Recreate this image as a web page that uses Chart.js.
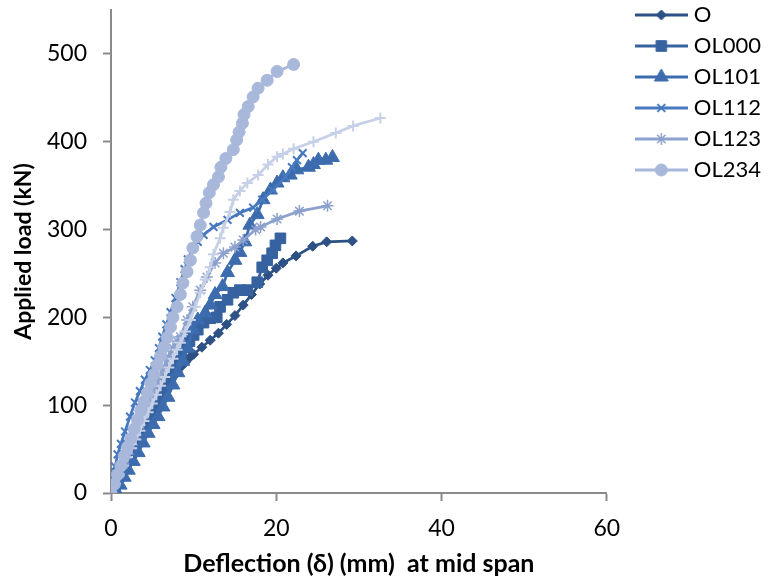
<!DOCTYPE html>
<html>
<head>
<meta charset="utf-8">
<script src="https://cdn.jsdelivr.net/npm/chart.js"></script>
<style>
html, body { margin: 0; padding: 0; background: #fff; }
canvas { display: block; }
</style>
</head>
<body>
<canvas id="loadChart" width="769" height="587"></canvas>
<script>
// deflection (mm) / applied load (kN)
var oX = [0, 0.5, 1, 1.5, 2, 2.5, 3, 3.5, 4, 4.5, 5, 5.5, 6, 6.5, 7, 7.5, 8, 8.5, 9, 9.5, 10, 11, 12, 13, 14, 15, 16, 17, 18, 19, 20, 20.8, 22.4, 24.4, 26.1, 29.2];
var oY = [0, 9, 18, 27, 36, 45, 54, 63, 72, 81, 90, 99, 108, 117, 125, 132, 138, 144, 149, 154, 158, 166, 174, 182, 192, 202, 214, 226, 238, 248, 256, 262, 270, 281, 286, 287];

var ol000X = [0, 0.5, 1, 1.5, 2, 2.5, 3, 3.5, 4, 4.5, 5, 5.5, 6, 6.5, 7, 7.5, 8, 8.5, 9, 9.5, 10, 10.5, 11.2, 12, 12.8, 13.2, 14.1, 14.8, 15.6, 16.5, 17.7, 18.3, 18.9, 19.5, 19.9, 20.5];
var ol000Y = [0, 9, 19, 28, 38, 47, 57, 66, 76, 85, 95, 104, 114, 123, 132, 141, 150, 158, 166, 173, 180, 186, 194, 199, 200, 212, 220, 228, 231, 231, 240, 257, 265, 273, 282, 290];

var ol101X = [0, 0.5, 1.1, 1.6, 2.1, 2.7, 3.3, 3.9, 4.5, 5.1, 5.7, 6.3, 6.9, 7.5, 8.1, 8.7, 9.3, 9.9, 10.5, 11.4, 12, 12.6, 13.5, 14.1, 15, 15.6, 16.2, 16.8, 17.7, 18.4, 19.3, 20.1, 20.8, 21.7, 22.5, 23.9, 24.5, 25.1, 26, 26.8];
var ol101Y = [0, 4, 9, 18, 26, 36, 46, 57, 68, 78, 87, 98, 109, 123, 137, 150, 165, 186, 197, 205, 214, 226, 235, 251, 265, 274, 286, 305, 317, 334, 345, 353, 359, 362, 368, 371, 374, 379, 379, 382];

var ol112X = [0, 0.2, 0.5, 0.8, 1.2, 1.7, 2.3, 2.9, 3.5, 4.1, 4.7, 5.3, 5.8, 6.2, 6.7, 7.2, 7.8, 8.4, 8.9, 9.3, 9.9, 10.5, 11.2, 12.4, 14.1, 15.6, 17.2, 18.3, 19.6, 21.1, 21.9, 22.5, 23.2];
var ol112Y = [0, 15, 30, 44, 56, 70, 87, 103, 116, 129, 140, 151, 165, 178, 192, 206, 222, 240, 255, 266, 279, 286, 294, 303, 311, 319, 325, 334, 345, 360, 371, 379, 387];

var ol123X = [0, 0.5, 1, 1.5, 2, 2.5, 3, 3.5, 4, 4.5, 5, 5.5, 6, 6.5, 7, 7.5, 8, 8.4, 9.2, 9.9, 10.8, 11.6, 12.6, 13.6, 15, 16, 17.5, 18.1, 20.1, 22.8, 26.2];
var ol123Y = [0, 11, 22, 33, 44, 55, 66, 78, 89, 100, 111, 122, 133, 144, 155, 165, 173, 178, 197, 212, 231, 246, 262, 273, 280, 288, 300, 303, 312, 321, 327];

var ol234X = [0, 0.4, 0.8, 1.2, 1.6, 2, 2.4, 2.8, 3.2, 3.6, 4, 4.4, 4.8, 5.2, 5.6, 6, 6.4, 6.8, 7.2, 7.5, 8, 8.4, 8.7, 9.2, 9.6, 9.9, 10.4, 10.8, 11.2, 11.5, 11.9, 12.4, 13, 13.3, 13.9, 14.8, 15.2, 15.5, 15.9, 16.1, 16.6, 17.2, 17.8, 18.9, 20.1, 22.1];
var ol234Y = [0, 10, 21, 31, 42, 52, 62, 73, 83, 94, 104, 114, 125, 135, 146, 156, 166, 177, 189, 200, 212, 226, 239, 252, 265, 279, 292, 305, 319, 330, 342, 351, 360, 371, 381, 391, 402, 411, 421, 431, 440, 451, 461, 470, 480, 488];

// seventh curve (light, "+" markers) has no legend entry in the original
var extraX = [0, 0.5, 1, 1.5, 2, 2.5, 3, 3.5, 4, 4.5, 5, 5.5, 6, 6.5, 7, 7.5, 8, 8.4, 9, 9.6, 10.2, 10.8, 11.4, 12, 12.4, 13.2, 13.6, 14.4, 14.8, 15.6, 16.5, 17.8, 19, 20.1, 20.8, 22.1, 24.5, 27.2, 29.3, 32.6];
var extraY = [0, 10, 20, 31, 41, 51, 61, 71, 82, 92, 102, 112, 122, 132, 143, 153, 163, 171, 184, 197, 212, 228, 243, 257, 272, 290, 302, 320, 334, 344, 353, 362, 374, 383, 386, 392, 400, 410, 418, 427];

var seriesNames = ['O', 'OL000', 'OL101', 'OL112', 'OL123', 'OL234', ''];
var seriesX = [oX, ol000X, ol101X, ol112X, ol123X, ol234X, extraX];
var seriesY = [oY, ol000Y, ol101Y, ol112Y, ol123Y, ol234Y, extraY];

var xTicks = [0, 20, 40, 60];
var yTicks = [0, 100, 200, 300, 400, 500];

var looks = [
    { color: '#2d5184', point: 'rectRot',  radius: 5,   border: 1,   order: 7 },
    { color: '#3762a0', point: 'rect',     radius: 7.5, border: 1,   order: 6 },
    { color: '#3c6cae', point: 'triangle', radius: 8,   border: 1,   order: 5 },
    { color: '#4679bf', point: 'crossRot', radius: 5.5, border: 2,   order: 4 },
    { color: '#8ca1cd', point: 'star',     radius: 6,   border: 1.5, order: 3 },
    { color: '#a8b8da', point: 'circle',   radius: 6,   border: 1,   order: 0 },
    { color: '#c6d0e6', point: 'cross',    radius: 5.5, border: 2,   order: 1 }
];

var axisGrey = '#8a8a8a';
var fontFamily = 'Lato, "Liberation Sans", sans-serif';

var datasets = seriesNames.map(function (name, i) {
    var lk = looks[i];
    return {
        label: name,
        data: seriesX[i].map(function (x, j) { return { x: x, y: seriesY[i][j] }; }),
        showLine: true,
        borderColor: lk.color,
        backgroundColor: lk.color,
        borderWidth: 2.75,
        pointStyle: lk.point,
        pointRadius: lk.radius,
        pointBorderWidth: lk.border,
        pointBackgroundColor: lk.color,
        pointBorderColor: lk.color,
        tension: 0,
        order: lk.order
    };
});

// legend icon: line with the marker in the middle, like the spreadsheet legend
function legendIcon(ds) {
    var c = document.createElement('canvas');
    c.width = 53;
    c.height = 18;
    var ctx = c.getContext('2d');
    ctx.strokeStyle = ds.borderColor;
    ctx.lineWidth = 3;
    ctx.beginPath();
    ctx.moveTo(0, 9);
    ctx.lineTo(53, 9);
    ctx.stroke();
    ctx.fillStyle = ds.pointBackgroundColor;
    ctx.strokeStyle = ds.pointBorderColor;
    ctx.lineWidth = ds.pointBorderWidth;
    if (Chart.helpers && Chart.helpers.drawPoint) {
        Chart.helpers.drawPoint(ctx, {
            pointStyle: ds.pointStyle,
            radius: ds.pointRadius,
            borderWidth: ds.pointBorderWidth,
            rotation: 0
        }, 26.5, 9);
    }
    return c;
}

new Chart(document.getElementById('loadChart').getContext('2d'), {
    type: 'scatter',
    data: { datasets: datasets },
    options: {
        responsive: false,
        animation: false,
        devicePixelRatio: 1,
        layout: { padding: { top: -5, left: 0, right: -2, bottom: 0 } },
        plugins: {
            tooltip: { enabled: false },
            legend: {
                position: 'right',
                align: 'start',
                maxWidth: 200,
                labels: {
                    usePointStyle: true,
                    pointStyleWidth: 43,
                    padding: 9,
                    color: '#000',
                    font: { family: fontFamily, size: 22 },
                    generateLabels: function (chart) {
                        return chart.data.datasets.map(function (ds, i) {
                            return {
                                text: ds.label,
                                datasetIndex: i,
                                pointStyle: legendIcon(ds),
                                fillStyle: ds.borderColor,
                                strokeStyle: ds.borderColor,
                                lineWidth: 0,
                                fontColor: '#000',
                                hidden: false
                            };
                        }).filter(function (item) { return item.text !== ''; });
                    }
                }
            }
        },
        scales: {
            x: {
                type: 'linear',
                min: 0,
                max: 60,
                afterBuildTicks: function (scale) {
                    scale.ticks = xTicks.map(function (v) { return { value: v }; });
                },
                afterFit: function (scale) { scale.height = 94; },
                ticks: {
                    color: '#000',
                    padding: 14,
                    maxRotation: 0,
                    font: { family: fontFamily, size: 23 }
                },
                grid: {
                    drawOnChartArea: false,
                    drawTicks: true,
                    tickLength: 8,
                    tickWidth: 2,
                    tickColor: axisGrey
                },
                border: { display: true, color: axisGrey, width: 2 },
                title: {
                    display: true,
                    text: 'Deflection (δ) (mm)  at mid span',
                    color: '#000',
                    padding: { top: 0, bottom: 8 },
                    font: { family: fontFamily, size: 25, weight: 'bold' }
                }
            },
            y: {
                type: 'linear',
                min: 0,
                max: 550,
                afterBuildTicks: function (scale) {
                    scale.ticks = yTicks.map(function (v) { return { value: v }; });
                },
                afterFit: function (scale) {
                    scale.width = 111;
                    scale.paddingTop = 10;
                },
                ticks: {
                    color: '#000',
                    padding: 16,
                    font: { family: fontFamily, size: 23 }
                },
                grid: {
                    drawOnChartArea: false,
                    drawTicks: true,
                    tickLength: 8,
                    tickWidth: 2,
                    tickColor: axisGrey
                },
                border: { display: true, color: axisGrey, width: 2 },
                title: {
                    display: true,
                    text: 'Applied load (kN)',
                    color: '#000',
                    padding: { top: 10, bottom: 0 },
                    font: { family: fontFamily, size: 23, weight: 'bold' }
                }
            },
            gap: {
                type: 'linear',
                position: 'right',
                display: true,
                afterFit: function (scale) { scale.width = 24; },
                ticks: { display: false },
                grid: { display: false, drawOnChartArea: false },
                border: { display: false }
            }
        }
    }
});
</script>
</body>
</html>
